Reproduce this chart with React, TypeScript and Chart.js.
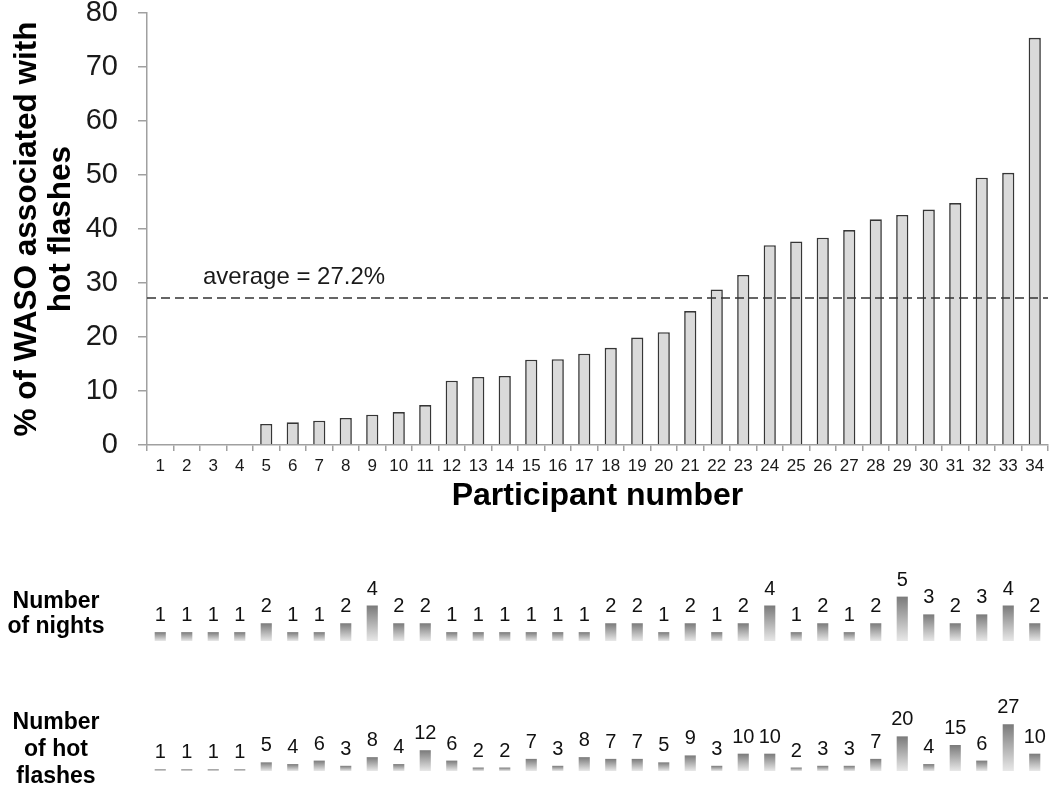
import React, { useEffect, useRef } from "react";
import { Chart, registerables } from "chart.js";

Chart.register(...registerables);

const FONT = "'Liberation Sans', Arial, sans-serif";

const PARTICIPANTS = [
  "1", "2", "3", "4", "5", "6", "7", "8", "9", "10", "11", "12", "13", "14", "15", "16", "17",
  "18", "19", "20", "21", "22", "23", "24", "25", "26", "27", "28", "29", "30", "31", "32", "33", "34",
];

const WASO_PCT = [
  0, 0, 0, 0, 3.9, 4.2, 4.5, 5.0, 5.6, 6.1, 7.4, 11.9, 12.6, 12.8, 15.8, 15.9, 16.9,
  18.0, 19.9, 20.9, 24.8, 28.8, 31.5, 37.0, 37.7, 38.4, 39.8, 41.8, 42.6, 43.6, 44.8, 49.5, 50.4, 75.4,
];

const NIGHTS = [
  1, 1, 1, 1, 2, 1, 1, 2, 4, 2, 2, 1, 1, 1, 1, 1, 1, 2, 2, 1, 2, 1, 2, 4, 1, 2, 1, 2, 5, 3, 2, 3, 4, 2,
];

const HOT_FLASHES = [
  1, 1, 1, 1, 5, 4, 6, 3, 8, 4, 12, 6, 2, 2, 7, 3, 8, 7, 7, 5, 9, 3, 10, 10, 2, 3, 3, 7, 20, 4, 15, 6, 27, 10,
];

const AVERAGE = 27.2;
const AVERAGE_LABEL = "average = 27.2%";
const Y_MAX = 80;
const Y_STEP = 10;

const averagePlugin = {
  id: "averageLine",
  afterDatasetsDraw(chart: any) {
    const { ctx, chartArea } = chart;
    const y = chart.scales.y.getPixelForValue(AVERAGE);
    ctx.save();
    ctx.strokeStyle = "#333";
    ctx.lineWidth = 1.5;
    ctx.setLineDash([9, 5]);
    ctx.beginPath();
    ctx.moveTo(chartArea.left, y);
    ctx.lineTo(chartArea.right, y);
    ctx.stroke();
    ctx.setLineDash([]);
    ctx.fillStyle = "#1a1a1a";
    ctx.font = `24px ${FONT}`;
    ctx.textAlign = "left";
    ctx.textBaseline = "alphabetic";
    ctx.fillText(AVERAGE_LABEL, chartArea.left + 56, y - 14);
    ctx.restore();
  },
};

const valueLabelPlugin = {
  id: "valueLabels",
  afterDatasetsDraw(chart: any) {
    const meta = chart.getDatasetMeta(0);
    const values = chart.data.datasets[0].data;
    const c = chart.ctx;
    c.save();
    c.font = `20px ${FONT}`;
    c.fillStyle = "#111";
    c.textAlign = "center";
    c.textBaseline = "alphabetic";
    meta.data.forEach((el: any, i: number) => {
      c.fillText(String(values[i]), el.x, el.y - 11);
    });
    c.restore();
  },
};

const gradientFill = (ctx: any) => {
  const chart = ctx.chart;
  if (!chart.chartArea || !chart.scales.y) return "#999";
  const ys = chart.scales.y;
  const v = ctx.raw as number;
  const top = ys.getPixelForValue(v);
  const bottom = ys.getPixelForValue(0);
  if (!isFinite(top) || !isFinite(bottom) || top === bottom) return "#999";
  const g = chart.ctx.createLinearGradient(0, top, 0, bottom);
  g.addColorStop(0, "#7a7a7a");
  g.addColorStop(1, "#e8e8e8");
  return g;
};

function smallConfig(values: number[], max: number): any {
  return {
    type: "bar",
    data: {
      labels: PARTICIPANTS,
      datasets: [
        {
          data: values,
          backgroundColor: gradientFill,
          borderWidth: 0,
          barPercentage: 0.42,
          categoryPercentage: 1,
        },
      ],
    },
    options: {
      responsive: false,
      animation: false,
      layout: { padding: { left: 147, right: 2, top: 15, bottom: 4 } },
      plugins: { legend: { display: false }, tooltip: { enabled: false } },
      scales: {
        x: { display: false },
        y: { display: false, min: 0, max },
      },
    },
    plugins: [valueLabelPlugin],
  };
}

export default function App() {
  const mainRef = useRef<HTMLCanvasElement>(null);
  const nightsRef = useRef<HTMLCanvasElement>(null);
  const flashRef = useRef<HTMLCanvasElement>(null);

  useEffect(() => {
    const axisColor = "#a0a0a0";
    const main = new Chart(mainRef.current!, {
      type: "bar",
      data: {
        labels: PARTICIPANTS,
        datasets: [
          {
            data: WASO_PCT,
            backgroundColor: "#dadada",
            borderColor: "#363636",
            borderWidth: 1.6,
            barPercentage: 0.46,
            categoryPercentage: 1,
          },
        ],
      },
      options: {
        responsive: false,
        animation: false,
        layout: { padding: { top: 13, right: 2, left: 0, bottom: 0 } },
        plugins: { legend: { display: false }, tooltip: { enabled: false } },
        scales: {
          x: {
            grid: {
              display: true,
              drawOnChartArea: false,
              offset: true,
              tickLength: 6,
              color: axisColor,
              lineWidth: 1.5,
            },
            border: { color: axisColor, width: 1.5 },
            ticks: {
              font: { size: 17, family: FONT },
              color: "#1a1a1a",
              padding: 5,
              maxRotation: 0,
              autoSkip: false,
            },
            title: {
              display: true,
              text: "Participant number",
              font: { size: 32, weight: "bold", family: FONT },
              color: "#000",
              padding: { top: 0, bottom: 5 },
            },
            afterFit: (s: any) => {
              s.height = 75;
              s.paddingLeft = 0;
              s.paddingRight = 0;
            },
          },
          y: {
            min: 0,
            max: Y_MAX,
            ticks: {
              stepSize: Y_STEP,
              font: { size: 29, family: FONT, lineHeight: 1 },
              color: "#1a1a1a",
              padding: 20,
            },
            grid: {
              drawOnChartArea: false,
              tickLength: 9,
              color: axisColor,
              lineWidth: 1.5,
            },
            border: { color: axisColor, width: 1.5 },
            title: {
              display: true,
              text: ["% of WASO associated with", "hot flashes"],
              font: { size: 31.5, weight: "bold", family: FONT, lineHeight: 1.08 },
              color: "#000",
              padding: { top: 10, bottom: 0 },
            },
            afterFit: (s: any) => {
              s.width = 147;
              s.paddingTop = 0;
              s.paddingBottom = 0;
            },
          },
        },
      },
      plugins: [averagePlugin],
    } as any);

    const nights = new Chart(nightsRef.current!, smallConfig(NIGHTS, 8));
    const flashes = new Chart(flashRef.current!, smallConfig(HOT_FLASHES, 41));

    return () => {
      main.destroy();
      nights.destroy();
      flashes.destroy();
    };
  }, []);

  const rowLabel: React.CSSProperties = {
    position: "absolute",
    left: 0,
    width: 112,
    textAlign: "center",
    fontFamily: FONT,
    fontWeight: "bold",
    fontSize: 23,
    color: "#000",
  };

  return (
    <div
      style={{
        position: "absolute",
        left: 0,
        top: 0,
        width: 1050,
        height: 785,
        background: "#fff",
        overflow: "hidden",
      }}
    >
      <canvas
        ref={mainRef}
        width={1050}
        height={520}
        style={{ position: "absolute", left: 0, top: 0, width: 1050, height: 520 }}
      />
      <canvas
        ref={nightsRef}
        width={1050}
        height={90}
        style={{ position: "absolute", left: 0, top: 555, width: 1050, height: 90 }}
      />
      <canvas
        ref={flashRef}
        width={1050}
        height={90}
        style={{ position: "absolute", left: 0, top: 685, width: 1050, height: 90 }}
      />
      <div style={{ ...rowLabel, top: 588, lineHeight: "25px" }}>
        Number
        <br />
        of nights
      </div>
      <div style={{ ...rowLabel, top: 708, lineHeight: "27px" }}>
        Number
        <br />
        of hot
        <br />
        flashes
      </div>
    </div>
  );
}
